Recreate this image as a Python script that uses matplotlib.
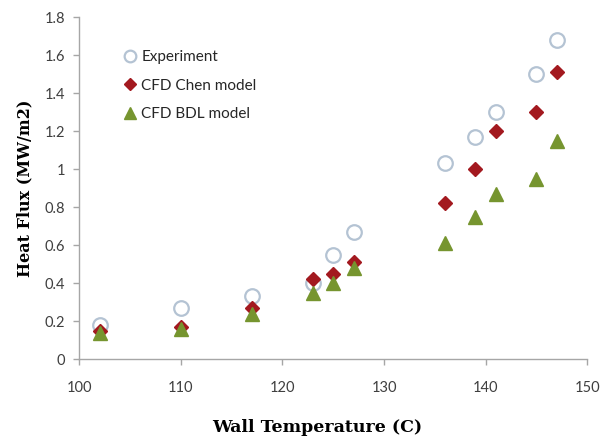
import matplotlib.pyplot as plt

# wall temperature (C) for every measured point
temps = [102, 110, 117, 123, 125, 127, 136, 139, 141, 145, 147]

# heat flux (MW/m2) per series
experiment = [0.18, 0.27, 0.33, 0.40, 0.55, 0.67, 1.03, 1.17, 1.30, 1.50, 1.68]
chen = [0.15, 0.17, 0.27, 0.42, 0.45, 0.51, 0.82, 1.00, 1.20, 1.30, 1.51]
bdl = [0.14, 0.16, 0.24, 0.35, 0.40, 0.48, 0.61, 0.75, 0.87, 0.95, 1.15]

x_ticks = [100, 110, 120, 130, 140, 150]
y_ticks = [0, 0.2, 0.4, 0.6, 0.8, 1, 1.2, 1.4, 1.6, 1.8]
y_labels = ["0", "0.2", "0.4", "0.6", "0.8", "1", "1.2", "1.4", "1.6", "1.8"]

fig = plt.figure(figsize=(6.01, 4.38), dpi=100)
ax = fig.add_axes([0.132, 0.180, 0.845, 0.781])

ax.plot(temps, experiment, linestyle="none", marker="o", markersize=10.5,
        markerfacecolor="white", markeredgecolor="#b4c3d3", markeredgewidth=1.6,
        label="Experiment")
ax.plot(temps, chen, linestyle="none", marker="D", markersize=7.5,
        color="#a3191f", label="CFD Chen model")
ax.plot(temps, bdl, linestyle="none", marker="^", markersize=10,
        color="#76952f", label="CFD BDL model")

ax.set_xlim(100, 150)
ax.set_ylim(0, 1.8)
ax.set_xticks(x_ticks)
ax.set_yticks(y_ticks)
ax.set_yticklabels(y_labels)

for side in ["top", "right"]:
    ax.spines[side].set_visible(False)
for side in ["left", "bottom"]:
    ax.spines[side].set_color("#a6a6a6")
    ax.spines[side].set_linewidth(1.0)

ax.tick_params(axis="both", direction="out", length=4, width=1,
               color="#a6a6a6", labelcolor="#3f3f3f", labelsize=10.5)
ax.tick_params(axis="x", pad=12)
ax.tick_params(axis="y", pad=6)
for lab in ax.get_xticklabels() + ax.get_yticklabels():
    lab.set_family("Lato")

ax.set_xlabel("Wall Temperature (C)", family="DejaVu Serif",
              fontweight="bold", fontsize=12.5)
ax.xaxis.set_label_coords(0.468, -0.175)
ax.set_ylabel("Heat Flux (MW/m2)", family="DejaVu Serif",
              fontweight="bold", fontsize=11.5, labelpad=8)

leg = ax.legend(loc="upper left", bbox_to_anchor=(0.054, 0.944), frameon=False,
                prop={"family": "Lato", "size": 11}, handletextpad=0.15,
                handlelength=1.2, labelspacing=0.95, markerscale=0.8)
for t in leg.get_texts():
    t.set_color("#262626")

fig.savefig("out.png", dpi=100)
